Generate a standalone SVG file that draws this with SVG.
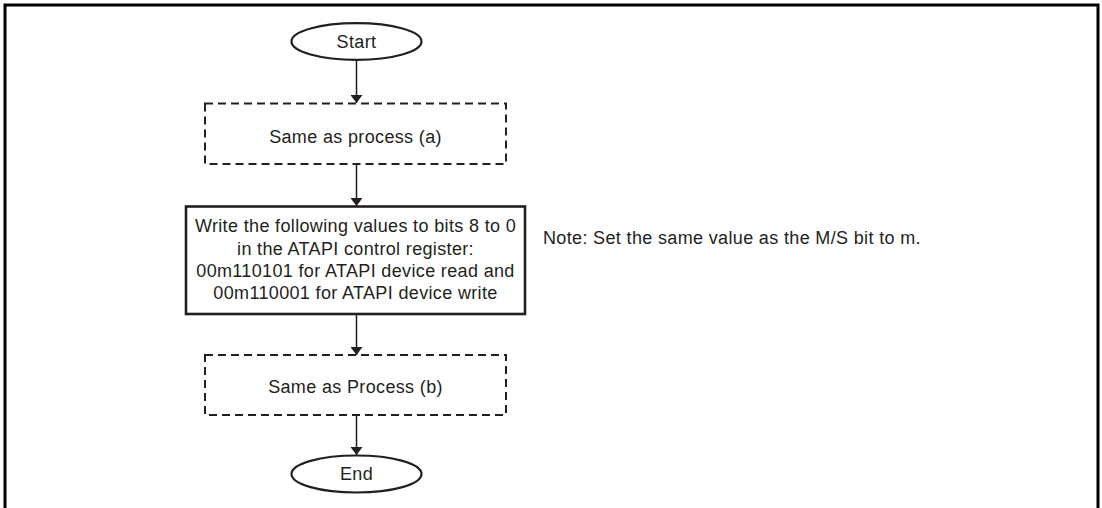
<svg xmlns="http://www.w3.org/2000/svg" width="1102" height="508" viewBox="0 0 1102 508">
<defs>
<style>
.t{font-family:"Liberation Sans",Arial,sans-serif;font-size:18px;letter-spacing:0.35px;fill:#231f20;}
.c{text-anchor:middle;}
.term{fill:#fff;stroke:#231f20;stroke-width:2.2;}
.dash{fill:#fff;stroke:#231f20;stroke-width:2;stroke-dasharray:8 5;}
.proc{fill:#fff;stroke:#231f20;stroke-width:2.6;}
.ln{stroke:#231f20;stroke-width:1.5;fill:none;marker-end:url(#ah);}
</style>
<marker id="ah" viewBox="0 0 8 12" refX="8" refY="6" markerWidth="8" markerHeight="12" markerUnits="userSpaceOnUse" orient="auto">
<path d="M0,0 L8,6 L0,12 Z" fill="#231f20"/>
</marker>
</defs>
<path d="M5,508 V5 H1098 V508" fill="none" stroke="#000" stroke-width="3"/>
<g id="connectors">
<line class="ln" x1="356.5" y1="60" x2="356.5" y2="103"/>
<line class="ln" x1="356.5" y1="164" x2="356.5" y2="206"/>
<line class="ln" x1="356.5" y1="314" x2="356.5" y2="355"/>
<line class="ln" x1="356.5" y1="415" x2="356.5" y2="455"/>
</g>
<g id="start">
<ellipse class="term" cx="356.5" cy="41.5" rx="65" ry="18.3"/>
<text class="t c" x="356.5" y="47.5">Start</text>
</g>
<g id="processA">
<rect class="dash" x="205" y="103.5" width="301" height="60.5"/>
<text class="t c" x="355.5" y="142.5">Same as process (a)</text>
</g>
<g id="write">
<rect class="proc" x="186" y="206.5" width="339" height="107.5"/>
<text class="t c" x="355.5" y="232">Write the following values to bits 8 to 0</text>
<text class="t c" x="355.5" y="254.5">in the ATAPI control register:</text>
<text class="t c" x="355.5" y="276.5">00m110101 for ATAPI device read and</text>
<text class="t c" x="355.5" y="298.5">00m110001 for ATAPI device write</text>
</g>
<g id="note">
<text class="t" x="543" y="244">Note: Set the same value as the M/S bit to m.</text>
</g>
<g id="processB">
<rect class="dash" x="205" y="355" width="301" height="60"/>
<text class="t c" x="355.5" y="393">Same as Process (b)</text>
</g>
<g id="end">
<ellipse class="term" cx="356.5" cy="474" rx="65" ry="18.5"/>
<text class="t c" x="356.5" y="480">End</text>
</g>
</svg>
